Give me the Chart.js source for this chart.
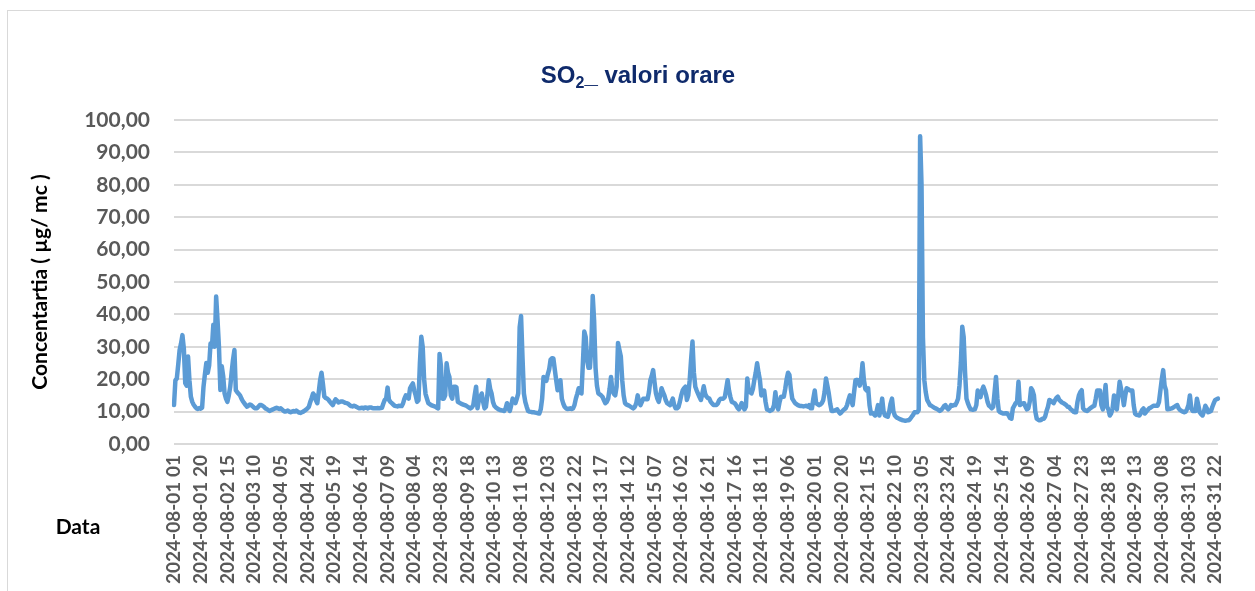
<!DOCTYPE html>
<html>
<head>
<meta charset="utf-8">
<script src="https://cdn.jsdelivr.net/npm/chart.js@4.4.1/dist/chart.umd.min.js"></script>
<style>
html, body { margin: 0; padding: 0; background: #fff; }
#wrap { position: relative; width: 1255px; height: 591px; }
</style>
</head>
<body>
<div id="wrap"><canvas id="so2Chart" width="1255" height="591"></canvas></div>
<script>
// categories: one per hour, 2024-08-01 01 .. 2024-08-31 24
const hourLabels = [];
for (let d = 1; d <= 31; d++) {
    for (let h = 1; h <= 24; h++) {
        hourLabels.push('2024-08-' + String(d).padStart(2, '0') + ' ' + String(h).padStart(2, '0'));
    }
}
const labelEvery = 19;
const yTickValues = [0, 10, 20, 30, 40, 50, 60, 70, 80, 90, 100];

// SO2 hourly concentration, one row per day
const so2Values = [
    12.0,19.7,20.2,24.5,29.0,31.0,33.6,29.5,18.8,18.0,27.0,19.6,14.6,13.0,12.1,11.5,11.0,10.8,11.1,10.9,11.2,17.7,21.5,25.0,
    22.0,24.2,31.0,30.0,36.8,30.0,45.5,38.0,30.0,16.7,24.0,21.0,15.6,14.0,13.0,15.0,17.6,22.0,26.0,29.0,16.6,16.0,15.5,15.0,
    14.0,13.2,12.6,12.0,11.5,11.8,12.2,12.0,11.6,11.2,11.0,11.0,11.5,12.0,12.0,11.8,11.5,11.0,10.8,10.5,10.2,10.4,10.6,10.8,
    11.0,11.2,11.0,10.8,11.0,10.6,10.2,10.0,10.1,10.3,10.0,9.8,10.0,10.2,10.0,10.3,10.0,9.7,9.6,9.8,10.0,10.3,10.6,11.0,
    11.5,13.0,14.2,15.6,15.0,13.5,12.6,16.0,19.7,22.0,18.5,14.6,14.2,14.0,13.6,13.0,12.5,12.0,13.0,13.8,13.4,12.8,13.0,13.1,
    13.1,12.9,12.7,12.6,12.4,12.0,11.7,11.6,11.8,11.7,11.4,11.2,11.0,11.1,11.2,11.0,11.3,11.2,11.0,11.3,11.3,11.1,11.0,11.0,
    11.0,11.1,11.0,11.1,11.2,12.5,13.6,14.0,17.4,13.6,13.0,12.6,12.2,11.8,11.7,11.6,11.8,11.7,11.7,12.5,14.0,15.0,14.5,14.0,
    17.2,18.0,18.7,16.5,15.0,13.0,13.5,25.0,33.1,30.0,20.0,15.5,14.0,12.6,12.3,12.0,11.8,11.7,11.5,11.2,11.0,27.8,24.0,14.0,
    14.0,15.0,24.9,22.0,20.7,15.0,14.0,17.7,17.7,17.5,13.0,12.8,12.5,12.3,12.1,12.0,11.8,11.5,11.2,11.0,11.3,12.0,15.0,17.7,
    11.0,13.6,14.5,15.6,13.0,11.0,11.5,15.0,19.7,17.0,15.6,13.0,11.8,11.3,11.0,10.7,10.5,10.4,10.3,10.2,11.0,12.6,11.0,10.2,
    12.0,14.0,13.3,12.6,14.0,15.6,36.0,39.5,27.0,15.6,13.0,11.5,10.2,10.0,9.9,9.8,9.8,9.7,9.6,9.5,9.4,10.7,14.0,20.7,
    20.0,19.5,21.5,23.0,26.0,26.5,26.4,23.0,19.7,16.6,18.0,19.7,14.0,12.5,11.5,11.0,10.8,10.9,11.0,10.8,11.0,12.0,14.0,15.5,
    17.2,16.0,15.6,25.0,34.7,33.0,26.0,23.5,23.5,30.0,45.7,38.0,23.5,18.0,15.6,15.3,15.0,14.5,13.5,12.6,13.0,14.0,17.0,20.7,
    16.6,15.5,15.0,17.7,31.2,29.0,27.0,19.7,15.0,12.6,12.2,12.0,11.8,11.5,11.2,11.0,11.5,12.6,15.0,13.0,12.0,13.0,14.0,14.0,
    13.8,13.8,16.0,19.7,21.0,22.8,19.0,15.6,14.0,13.0,15.0,17.2,16.0,15.0,13.5,12.6,12.3,12.0,13.0,14.0,12.0,11.0,11.0,11.4,
    13.0,15.0,16.5,17.2,17.7,13.6,15.0,19.7,26.0,31.6,22.0,17.7,16.5,15.5,14.5,13.6,15.5,17.8,15.5,14.6,14.2,14.0,13.0,12.5,
    12.0,12.0,12.0,12.5,13.5,14.0,14.0,14.0,14.5,17.0,19.7,16.5,14.5,13.0,12.8,12.6,12.0,11.2,10.7,11.5,12.6,11.5,10.7,11.5,
    20.2,16.5,16.0,15.6,17.0,19.7,22.0,24.9,22.0,19.7,15.0,15.5,16.5,13.0,10.7,10.5,10.2,10.4,10.7,12.0,16.0,12.0,10.7,13.0,
    14.6,14.6,14.6,17.0,20.0,22.0,21.3,17.0,14.0,13.3,12.6,12.3,12.0,11.8,11.7,11.7,11.6,11.7,11.8,11.5,12.0,11.0,11.0,14.0,
    16.5,12.6,12.3,12.0,12.2,12.6,13.5,16.0,20.2,18.0,15.6,12.5,10.2,10.2,10.3,10.5,10.7,10.0,9.4,9.8,10.3,10.7,11.0,12.0,
    13.6,15.0,13.5,12.0,16.0,19.7,19.8,19.7,18.0,20.0,24.9,19.7,17.0,16.5,17.2,12.0,9.4,9.6,9.2,8.8,10.0,12.0,8.8,11.0,
    14.0,10.0,8.8,8.6,8.4,10.0,12.5,14.0,10.0,8.8,8.3,8.0,7.8,7.6,7.4,7.3,7.2,7.2,7.3,7.3,7.8,8.4,9.0,9.8,
    9.8,9.8,10.5,95.0,80.0,33.0,19.7,16.0,13.6,12.8,12.0,11.8,11.5,11.2,11.0,10.8,10.5,10.2,10.5,11.0,11.7,12.0,11.2,10.7,
    11.2,12.0,11.8,12.0,12.0,12.8,14.0,18.0,25.0,36.2,33.0,22.0,14.0,12.6,11.5,10.7,10.6,10.6,10.7,12.0,16.5,15.0,14.5,16.5,
    17.7,16.5,15.0,13.0,11.8,11.5,11.0,11.5,16.0,20.7,14.0,10.2,9.8,9.6,9.4,9.4,9.5,9.4,8.8,8.0,7.8,11.0,11.8,12.6,
    13.0,19.2,12.0,12.3,12.5,12.6,11.5,10.7,11.0,13.0,17.2,16.5,15.0,10.0,7.8,7.5,7.3,7.4,7.8,7.8,8.5,10.2,11.5,13.6,
    13.3,13.0,12.6,13.5,14.2,14.6,13.6,13.2,12.8,12.6,12.3,12.0,11.5,11.4,10.8,10.5,10.0,9.8,9.8,13.0,15.0,16.0,16.6,11.0,
    10.5,10.3,10.2,10.6,11.0,11.3,11.6,11.8,14.0,16.5,16.5,16.5,12.0,10.7,14.0,18.2,11.5,10.7,8.8,9.5,11.0,15.0,12.0,10.7,
    15.0,19.2,17.0,15.0,12.0,15.0,17.2,17.0,16.6,16.5,16.5,12.0,9.4,9.0,8.9,8.8,9.5,10.5,11.0,9.4,10.0,10.5,11.0,11.2,
    11.5,11.8,11.8,11.8,11.8,13.0,16.5,20.0,22.8,18.0,16.6,10.7,10.8,10.9,11.0,11.2,11.5,11.8,12.0,11.0,10.5,10.2,10.0,9.8,
    10.0,10.8,12.0,15.0,11.0,10.2,10.2,10.2,14.0,12.0,9.8,9.2,8.8,10.0,11.8,11.0,9.8,10.0,10.2,11.5,12.6,13.6,13.8,14.0
];

const chartText = {
    id: 'chartText',
    beforeDraw(chart) {
        const ctx = chart.ctx;
        ctx.save();
        ctx.strokeStyle = '#d9d9d9';
        ctx.lineWidth = 1;
        ctx.strokeRect(7.5, 10.5, 1260, 600);
        ctx.restore();
    },
    afterDraw(chart) {
        const ctx = chart.ctx;
        ctx.save();
        // title with subscript 2
        const big = 'bold 24px "Liberation Sans", Arial, sans-serif';
        const small = 'bold 16px "Liberation Sans", Arial, sans-serif';
        ctx.font = big;
        const w1 = ctx.measureText('SO').width;
        const w3 = ctx.measureText('_ valori orare').width;
        ctx.font = small;
        const w2 = ctx.measureText('2').width;
        let x = 638 - (w1 + w2 + w3) / 2;
        const base = 83;
        ctx.fillStyle = '#0f2a6b';
        ctx.textBaseline = 'alphabetic';
        ctx.textAlign = 'left';
        ctx.font = big;
        ctx.fillText('SO', x, base);
        x += w1;
        ctx.font = small;
        ctx.fillText('2', x, base + 5);
        x += w2;
        ctx.font = big;
        ctx.fillText('_ valori orare', x, base);

        // axis titles
        ctx.fillStyle = '#000';
        ctx.font = 'bold 21px Lato, sans-serif';
        ctx.textAlign = 'center';
        ctx.textBaseline = 'middle';
        ctx.fillText('Data', 78, 527);
        ctx.translate(40, 282);
        ctx.rotate(-Math.PI / 2);
        ctx.fillText('Concentartia ( µg/ mc )', 0, 0);
        ctx.restore();
    }
};

const so2Ctx = document.getElementById('so2Chart').getContext('2d');
const so2Chart = new Chart(so2Ctx, {
    type: 'line',
    data: {
        labels: hourLabels,
        datasets: [{
            label: 'SO2',
            data: so2Values,
            borderColor: '#5b9bd5',
            backgroundColor: '#5b9bd5',
            borderWidth: 4.5,
            pointRadius: 0,
            tension: 0,
            borderJoinStyle: 'round',
            borderCapStyle: 'round'
        }]
    },
    options: {
        responsive: false,
        animation: false,
        devicePixelRatio: 1,
        layout: { padding: { left: 0, right: 37, top: 120, bottom: 0 } },
        plugins: {
            legend: { display: false },
            title: { display: false },
            tooltip: { enabled: false }
        },
        scales: {
            x: {
                type: 'category',
                offset: false,
                grid: { display: false, drawTicks: false },
                border: { display: false },
                ticks: {
                    autoSkip: false,
                    minRotation: 90,
                    maxRotation: 90,
                    padding: 11,
                    color: '#595959',
                    font: { family: 'Lato', size: 19, weight: 'bold' },
                    callback: (value, index) => index % labelEvery === 0 ? hourLabels[index] : null
                },
                afterFit: (scale) => { scale.height = 147; }
            },
            y: {
                min: yTickValues[0],
                max: yTickValues[yTickValues.length - 1],
                afterBuildTicks: (scale) => { scale.ticks = yTickValues.map(v => ({ value: v })); },
                grid: { color: '#d9d9d9', lineWidth: 2, drawTicks: false },
                border: { display: false },
                ticks: {
                    padding: 24,
                    color: '#595959',
                    font: { family: 'Lato', size: 21, weight: 'bold' },
                    callback: (value) => value.toFixed(2).replace('.', ',')
                },
                afterFit: (scale) => { scale.width = 174; }
            }
        }
    },
    plugins: [chartText]
});
</script>
</body>
</html>
